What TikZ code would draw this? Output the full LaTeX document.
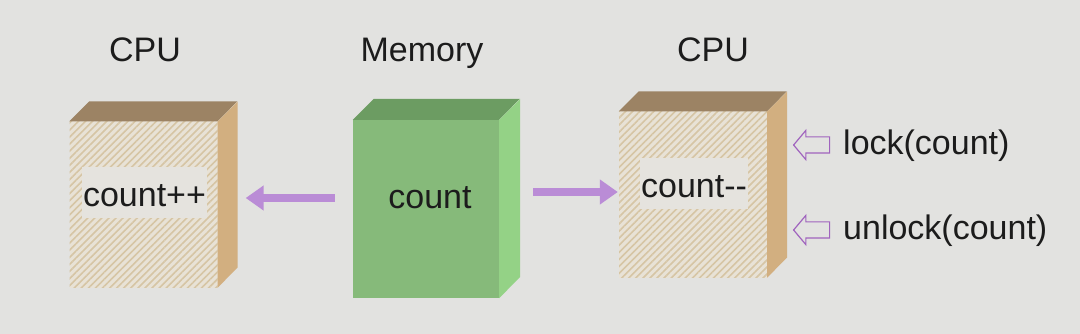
\documentclass[tikz,border=0pt]{standalone}
\usepackage{fontspec}
\setmainfont{Liberation Sans}
\usepackage{xcolor}
\usetikzlibrary{arrows.meta,patterns.meta,shapes.arrows,calc}
\definecolor{bggray}{RGB}{226,226,224}
\definecolor{textdark}{RGB}{28,28,28}
\definecolor{cpubase}{RGB}{232,226,214}
\definecolor{cpuhatch}{RGB}{214,197,164}
\definecolor{cputop}{RGB}{156,131,100}
\definecolor{cpuside}{RGB}{210,175,128}
\definecolor{panelgray}{RGB}{229,227,222}
\definecolor{memfront}{RGB}{134,186,122}
\definecolor{memtop}{RGB}{108,156,98}
\definecolor{memside}{RGB}{148,210,134}
\definecolor{arrowpurple}{RGB}{186,140,214}
\definecolor{ptrpurple}{RGB}{160,100,190}

\begin{document}
\begin{tikzpicture}[x=1pt, y=-1pt,
    txt/.style={font=\fontsize{34}{40}\selectfont, text=textdark, inner sep=0pt},
    cpubox/.style={rectangle, inner sep=0pt, minimum width=148pt, minimum height=166pt, fill=cpubase,
        postaction={pattern={Lines[angle=45,distance=5pt,line width=1.6pt]}, pattern color=cpuhatch}},
    membox/.style={rectangle, inner sep=0pt, minimum width=146pt, minimum height=178pt, fill=memfront},
    panel/.style={txt, fill=panelgray, inner xsep=1pt, minimum height=51pt, text height=28pt, text depth=0pt},
    fatarrow/.style={-{Triangle[length=18pt,width=24pt]}, line width=7.5pt, draw=arrowpurple},
    ptrarrow/.style={single arrow, shape border rotate=180, draw=ptrpurple, line width=1.2pt, fill=bggray,
        minimum height=36pt, minimum width=28pt, single arrow head extend=6.5pt, single arrow tip angle=100,
        inner xsep=0pt, inner ysep=7.5pt},
]
    \useasboundingbox (0,0) rectangle (1080,334);
    \fill[bggray] (0,0) rectangle (1080,334);

    % Titles
    \node[txt, anchor=base] (titleL) at (145,62) {CPU};
    \node[txt, anchor=base] (titleM) at (422,62) {Memory};
    \node[txt, anchor=base] (titleR) at (713,62) {CPU};

    % CPU boxes (front face, top and side)
    \node[cpubox] (cpuL) at (143.5,204.5) {};
    \node[cpubox] (cpuR) at (693,194.5) {};
    \foreach \b in {cpuL,cpuR} {
        \fill[cputop] (\b.north west) -- ++(20,-20) -- ++(148,0) -- (\b.north east) -- cycle;
        \fill[cpuside] (\b.north east) -- ++(20,-20) -- ++(0,166) -- (\b.south east) -- cycle;
    }
    \node[panel] (cntL) at (144.5,192.5) {count++};
    \node[panel] (cntR) at (694,184) {count{-}{-}};

    % Memory box
    \node[membox] (mem) at (426,209) {};
    \fill[memtop] (mem.north west) -- ++(21,-21) -- ++(146,0) -- (mem.north east) -- cycle;
    \fill[memside] (mem.north east) -- ++(21,-21) -- ++(0,178) -- (mem.south east) -- cycle;
    \node[txt, anchor=base] (cntM) at (430,208) {count};

    % Memory to CPUs
    \draw[fatarrow] ([xshift=-18pt,yshift=11pt]mem.west) -- ([xshift=28pt,yshift=6.5pt]cpuL.east);
    \draw[fatarrow] ([xshift=34pt,yshift=17pt]mem.east) -- ([xshift=-1pt,yshift=2.5pt]cpuR.west);

    % Lock calls
    \node[ptrarrow] (ptrLock) at (815,145) {};
    \node[txt, anchor=base west] (lock) at (843,155) {lock(count)};
    \node[ptrarrow] (ptrUnlock) at (815,230) {};
    \node[txt, anchor=base west] (unlock) at (843,240) {unlock(count)};
\end{tikzpicture}
\end{document}
